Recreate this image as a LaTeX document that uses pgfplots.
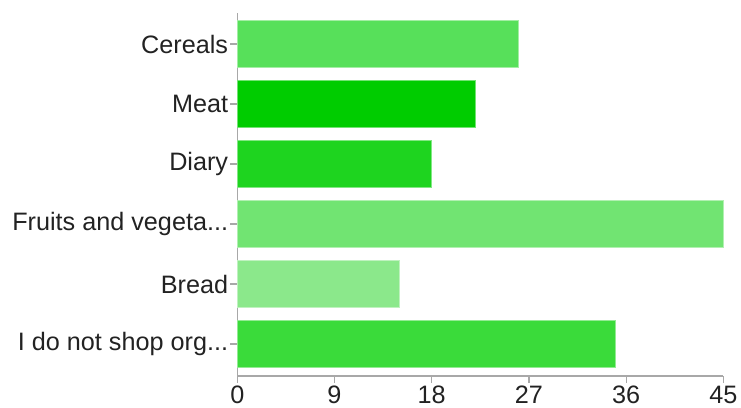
\documentclass[border=0pt]{standalone}
\usepackage{fontspec}
\setmainfont{Liberation Sans}
\usepackage{pgfplots}
\pgfplotsset{compat=1.18}

\definecolor{cCereals}{HTML}{57E05A}
\definecolor{cMeat}{HTML}{00CC00}
\definecolor{cDiary}{HTML}{1ED41F}
\definecolor{cFruits}{HTML}{71E472}
\definecolor{cBread}{HTML}{8BE88B}
\definecolor{cNone}{HTML}{3ADB3A}
\definecolor{axisgray}{HTML}{A8A8A8}
\definecolor{labelgray}{HTML}{222222}

\begin{document}
\begin{tikzpicture}
\useasboundingbox (0,0) rectangle (741bp,408bp);
\begin{axis}[
  at={(237.3bp,32bp)}, anchor=south west,
  scale only axis, width=486bp, height=363bp,
  xmin=0, xmax=45, ymin=-0.533, ymax=5.517,
  xtick={0,9,18,27,36,45}, ytick={0,1,2,3,4,5},
  yticklabel={\ifcase\ticknum I do not shop org...\or Bread\or Fruits and vegeta...\or Diary\or Meat\or Cereals\fi},
  axis x line*=bottom, axis y line*=left,
  axis line style={-, draw=axisgray, line width=1.5bp},
  tick style={draw=axisgray, line width=1.2bp},
  tick align=outside, major tick length=7bp,
  xbar, bar width=0.795, bar shift=0pt,
  ticklabel style={font=\fontsize{25.3}{30}\selectfont, text=labelgray},
  /pgf/number format/assume math mode=true,
  xticklabel style={inner sep=0pt, anchor=north, yshift=-3bp},
  yticklabel style={inner sep=0pt, anchor=east, xshift=-2bp},
  clip=false,
]
\addplot[fill=cCereals, draw=cCereals!55!white, line width=0.8bp] coordinates {(26,5)};
\addplot[fill=cMeat,    draw=cMeat!55!white,    line width=0.8bp] coordinates {(22,4)};
\addplot[fill=cDiary,   draw=cDiary!55!white,   line width=0.8bp] coordinates {(18,3)};
\addplot[fill=cFruits,  draw=cFruits!55!white,  line width=0.8bp] coordinates {(45,2)};
\addplot[fill=cBread,   draw=cBread!55!white,   line width=0.8bp] coordinates {(15,1)};
\addplot[fill=cNone,    draw=cNone!55!white,    line width=0.8bp] coordinates {(35,0)};
\end{axis}
\end{tikzpicture}
\end{document}
